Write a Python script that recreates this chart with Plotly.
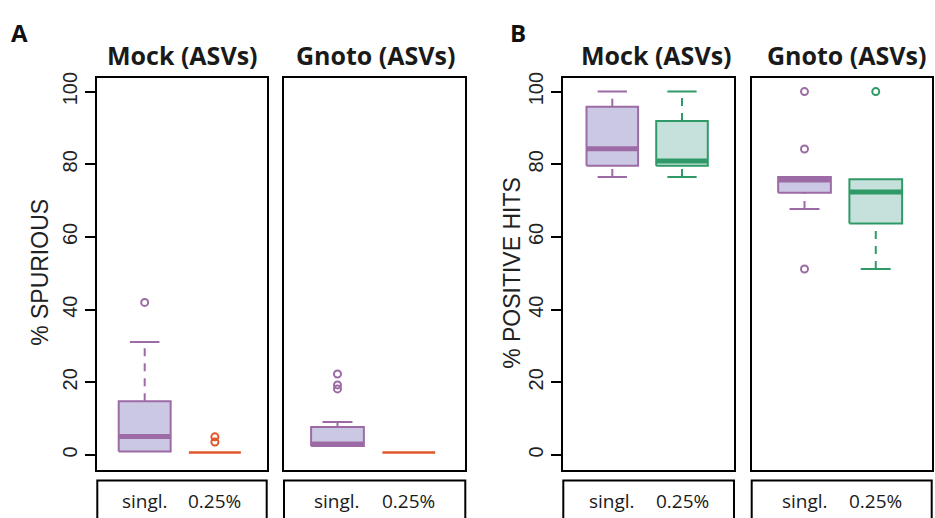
import plotly.graph_objects as go

# ---------------- data ----------------
methods = ["singl.", "0.25%"]
positions = [1, 2]

# Panel A : % SPURIOUS
a_mock_q1 = [1.0, 0.7]
a_mock_med = [5.1, 0.7]
a_mock_q3 = [14.8, 0.7]
a_mock_lo = [1.0, 0.7]
a_mock_hi = [31.1, 0.7]
a_mock_out = [[42.0], [5.0, 3.6]]

a_gnoto_q1 = [2.5, 0.7]
a_gnoto_med = [3.0, 0.7]
a_gnoto_q3 = [7.7, 0.7]
a_gnoto_lo = [2.5, 0.7]
a_gnoto_hi = [9.1, 0.7]
a_gnoto_out = [[22.3, 19.3, 18.2], []]

# Panel B : % POSITIVE HITS
b_mock_q1 = [79.6, 79.6]
b_mock_med = [84.3, 80.9]
b_mock_q3 = [95.8, 91.9]
b_mock_lo = [76.5, 76.5]
b_mock_hi = [100.0, 100.0]
b_mock_out = [[], []]

b_gnoto_q1 = [72.2, 63.7]
b_gnoto_med = [75.7, 72.4]
b_gnoto_q3 = [76.5, 75.9]
b_gnoto_lo = [67.7, 51.2]
b_gnoto_hi = [76.5, 75.9]
b_gnoto_out = [[100.0, 84.2, 51.2], [100.0]]

y_ticks = [0, 20, 40, 60, 80, 100]
panel_titles = ["Mock (ASVs)", "Gnoto (ASVs)", "Mock (ASVs)", "Gnoto (ASVs)"]
y_titles = ["% SPURIOUS", "% POSITIVE HITS"]

# ---------------- styles ----------------
PURPLE = "#9C6BA5"
PURPLE_FILL = "#CBC8E3"
GREEN = "#2F9A67"
GREEN_FILL = "#C6E0DC"
ORANGE = "#E0572A"

W, H = 935, 518
BOXW = 0.74
CAPW = 0.42

panels = [
    dict(q1=a_mock_q1, med=a_mock_med, q3=a_mock_q3, lo=a_mock_lo, hi=a_mock_hi, out=a_mock_out,
         cols=[(PURPLE, PURPLE_FILL), (ORANGE, ORANGE)], px=(97.3, 266.7), xr=(0.325, 2.738), tx=182.5),
    dict(q1=a_gnoto_q1, med=a_gnoto_med, q3=a_gnoto_q3, lo=a_gnoto_lo, hi=a_gnoto_hi, out=a_gnoto_out,
         cols=[(PURPLE, PURPLE_FILL), (ORANGE, ORANGE)], px=(284.0, 465.3), xr=(0.250, 2.792), tx=375),
    dict(q1=b_mock_q1, med=b_mock_med, q3=b_mock_q3, lo=b_mock_lo, hi=b_mock_hi, out=b_mock_out,
         cols=[(PURPLE, PURPLE_FILL), (GREEN, GREEN_FILL)], px=(563.3, 734.0), xr=(0.297, 2.746), tx=656),
    dict(q1=b_gnoto_q1, med=b_gnoto_med, q3=b_gnoto_q3, lo=b_gnoto_lo, hi=b_gnoto_hi, out=b_gnoto_out,
         cols=[(PURPLE, PURPLE_FILL), (GREEN, GREEN_FILL)], px=(751.7, 931.7), xr=(0.259, 2.785), tx=846),
]

fig = go.Figure()
ydom = [(H - 469) / H, (H - 73) / H]

for i, p in enumerate(panels):
    xa = "x" if i == 0 else f"x{i+1}"
    ya = "y" if i == 0 else f"y{i+1}"
    for j, c in enumerate(positions):
        edge, fill = p["cols"][j]
        q1, med, q3, lo, hi = p["q1"][j], p["med"][j], p["q3"][j], p["lo"][j], p["hi"][j]
        x0, x1 = c - BOXW / 2, c + BOXW / 2
        degenerate = q3 - q1 < 0.01
        if not degenerate:
            fig.add_trace(go.Scatter(x=[x0, x1, x1, x0, x0], y=[q1, q1, q3, q3, q1], mode="lines",
                                     fill="toself", fillcolor=fill, line=dict(color=edge, width=2),
                                     xaxis=xa, yaxis=ya, hoverinfo="skip"))
        # whiskers
        if hi > q3 + 0.01:
            fig.add_trace(go.Scatter(x=[c, c], y=[q3, hi], mode="lines",
                                     line=dict(color=edge, width=2, dash="8px,7px"),
                                     xaxis=xa, yaxis=ya, hoverinfo="skip"))
            fig.add_trace(go.Scatter(x=[c - CAPW / 2, c + CAPW / 2], y=[hi, hi], mode="lines",
                                     line=dict(color=edge, width=2), xaxis=xa, yaxis=ya, hoverinfo="skip"))
        if lo < q1 - 0.01:
            fig.add_trace(go.Scatter(x=[c, c], y=[lo, q1], mode="lines",
                                     line=dict(color=edge, width=2, dash="8px,7px"),
                                     xaxis=xa, yaxis=ya, hoverinfo="skip"))
            fig.add_trace(go.Scatter(x=[c - CAPW / 2, c + CAPW / 2], y=[lo, lo], mode="lines",
                                     line=dict(color=edge, width=2), xaxis=xa, yaxis=ya, hoverinfo="skip"))
        # median
        fig.add_trace(go.Scatter(x=[x0, x1], y=[med, med], mode="lines",
                                 line=dict(color=edge, width=2.5 if degenerate else 5),
                                 xaxis=xa, yaxis=ya, hoverinfo="skip"))
        # outliers
        if p["out"][j]:
            fig.add_trace(go.Scatter(x=[c] * len(p["out"][j]), y=p["out"][j], mode="markers",
                                     marker=dict(symbol="circle-open", size=7, color=edge,
                                                 line=dict(width=2, color=edge)),
                                     xaxis=xa, yaxis=ya, hoverinfo="skip"))

    xdom = [p["px"][0] / W, p["px"][1] / W]
    xkey = "xaxis" if i == 0 else f"xaxis{i+1}"
    ykey = "yaxis" if i == 0 else f"yaxis{i+1}"
    fig.layout[xkey] = dict(domain=xdom, range=list(p["xr"]), anchor=ya, showgrid=False, zeroline=False,
                            showticklabels=False, ticks="", showline=True, mirror=True,
                            linecolor="black", linewidth=2, fixedrange=True)
    show_y = i in (0, 2)
    fig.layout[ykey] = dict(domain=ydom, range=[-4, 103.7], anchor=xa, showgrid=False, zeroline=False,
                            tickvals=y_ticks, showticklabels=show_y,
                            ticks="outside" if show_y else "", ticklen=10, tickwidth=1.5,
                            tickcolor="black", tickangle=-90,
                            tickfont=dict(family="Liberation Sans, Arial", size=20, color="#222"),
                            showline=True, mirror=True, linecolor="black", linewidth=2, fixedrange=True)

    # title above the panel
    fig.add_annotation(text=f"<b>{panel_titles[i]}</b>", x=p["tx"] / W, y=(H - 50) / H,
                       xref="paper", yref="paper", showarrow=False, xanchor="center", yanchor="middle",
                       font=dict(family="Open Sans", size=25, color="#1a1a1a"))
    # category label box under the panel
    fig.add_shape(type="rect", xref="paper", yref="paper", x0=xdom[0], x1=xdom[1],
                  y0=-0.05, y1=(H - 480) / H, line=dict(color="black", width=2))
    for j, c in enumerate(positions):
        fig.add_annotation(text=methods[j], x=c, y=(H - 501) / H, xref=xa, yref="paper",
                           showarrow=False, xanchor="center", yanchor="middle",
                           font=dict(family="Open Sans", size=19, color="#1a1a1a"))

# y-axis titles
fig.add_annotation(text=y_titles[0], x=40 / W, y=(H - 270) / H, xref="paper", yref="paper",
                   showarrow=False, textangle=-90, xanchor="center", yanchor="middle",
                   font=dict(family="Liberation Sans, Arial", size=23, color="#222"))
fig.add_annotation(text=y_titles[1], x=512 / W, y=(H - 270) / H, xref="paper", yref="paper",
                   showarrow=False, textangle=-90, xanchor="center", yanchor="middle",
                   font=dict(family="Liberation Sans, Arial", size=23, color="#222"))
# panel letters
for letter, xp in [("A", 19), ("B", 518)]:
    fig.add_annotation(text=f"<b>{letter}</b>", x=xp / W, y=(H - 27) / H, xref="paper", yref="paper",
                       showarrow=False, xanchor="center", yanchor="middle",
                       font=dict(family="Open Sans", size=24, color="#111"))

fig.update_layout(width=W, height=H, margin=dict(l=0, r=0, t=0, b=0), showlegend=False,
                  plot_bgcolor="white", paper_bgcolor="white")
fig.write_html("out.html")
